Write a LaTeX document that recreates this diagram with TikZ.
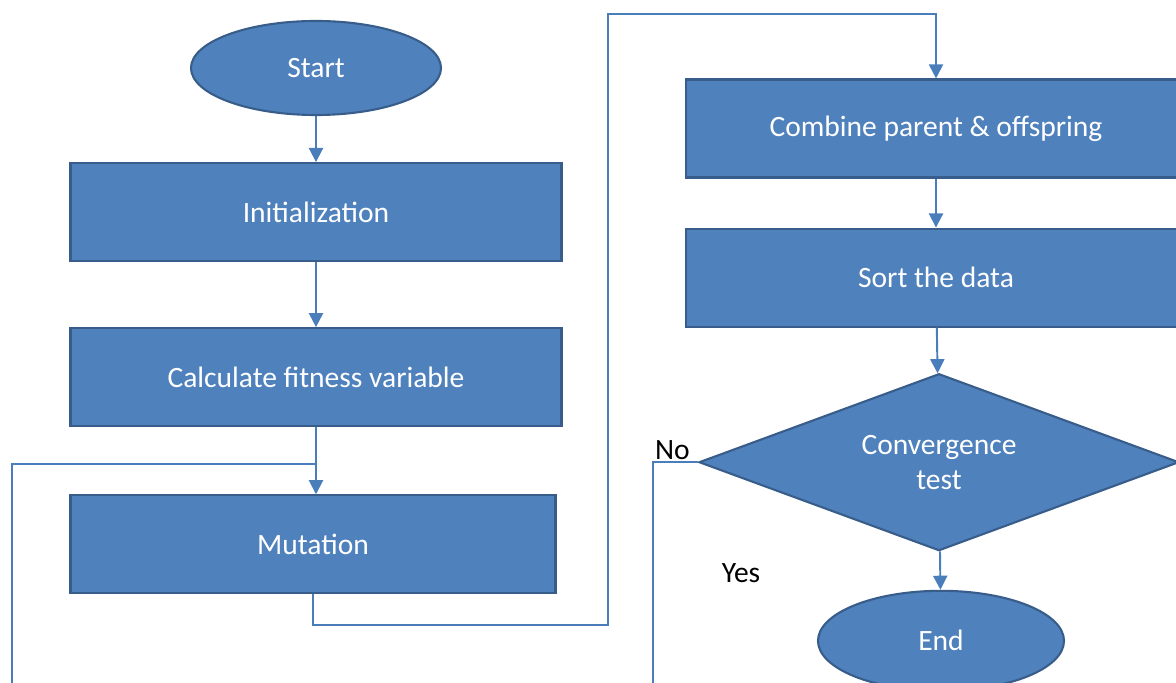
\documentclass[tikz,border=0pt]{standalone}
\usepackage{fontspec}
\setmainfont{Carlito}
\usepackage{xcolor}
\usetikzlibrary{positioning, arrows.meta, shapes.geometric, calc}

\definecolor{boxblue}{HTML}{4F81BD}
\definecolor{boxedge}{HTML}{385D8A}
\definecolor{linkblue}{HTML}{4A7EBB}

\begin{document}
\begin{tikzpicture}[
    node distance=1cm,
    font=\fontsize{16.8}{20}\selectfont,
    proc/.style={
        draw=boxedge,
        fill=boxblue,
        line width=1.2pt,
        text=white,
        minimum width=9.82cm,
        minimum height=1.96cm
    },
    term/.style={
        ellipse,
        draw=boxedge,
        fill=boxblue,
        line width=1.2pt,
        text=white,
        minimum width=5cm,
        minimum height=1.88cm
    },
    decision/.style={
        diamond,
        aspect=2.7,
        draw=boxedge,
        fill=boxblue,
        line width=1.2pt,
        text=white,
        align=center,
        minimum width=9.6cm,
        minimum height=3.54cm,
        inner sep=0pt
    },
    lbl/.style={text=black, inner sep=1pt},
    line/.style={draw=linkblue, line width=1.1pt},
    arrow/.style={line, -{Triangle[length=8pt, width=8pt]}}
]

\clip (0,0) rectangle (23.52,-13.66);

% --- left column ---
\node[term] (start) at (6.32,-1.36) {Start};
\node[proc, below=0.92cm of start] (init) {Initialization};
\node[proc, below=1.30cm of init] (calc) {Calculate fitness variable};
\node[proc, below=1.34cm of calc, minimum width=9.7cm, xshift=-0.06cm] (mut) {Mutation};

\draw[arrow] (start) -- (init);
\draw[arrow] (init) -- (calc);
\draw[arrow] (calc.south) -- (calc.south |- mut.north);

% --- right column ---
\node[proc, minimum width=10cm] (comb) at (18.72,-2.57) {Combine parent \& offspring};
\node[proc, minimum width=10cm, below=0.98cm of comb] (sort) {Sort the data};
\node[decision, below=0.90cm of sort, xshift=0.06cm] (conv) {Convergence\\test};
\node[term, below=0.76cm of conv, minimum width=4.92cm, minimum height=2cm, xshift=0.04cm] (end) {End};

\draw[arrow] (comb) -- (sort);
\draw[arrow] (sort) -- (conv);
\draw[arrow] (conv) -- (end);

% --- mutation over to combine ---
\coordinate (upleft) at (12.16,-0.28);
\draw[arrow] (mut.south) -- ++(0,-0.62) -| (upleft) -| (comb.north);

% --- no: back to mutation ---
\coordinate[left=0.9cm of conv.west] (nobend);
\coordinate (loopleft) at (0.24,-14.2);
\coordinate (loopjoin) at ($(calc.south)!0.55!(calc.south |- mut.north)$);
\draw[line] (conv.west) -- (nobend) |- (loopleft) |- (loopjoin);

\node[lbl, anchor=south west] (nolbl) at (nobend) {No};
\node[lbl] (yeslbl) at (14.82,-11.46) {Yes};

\end{tikzpicture}
\end{document}
